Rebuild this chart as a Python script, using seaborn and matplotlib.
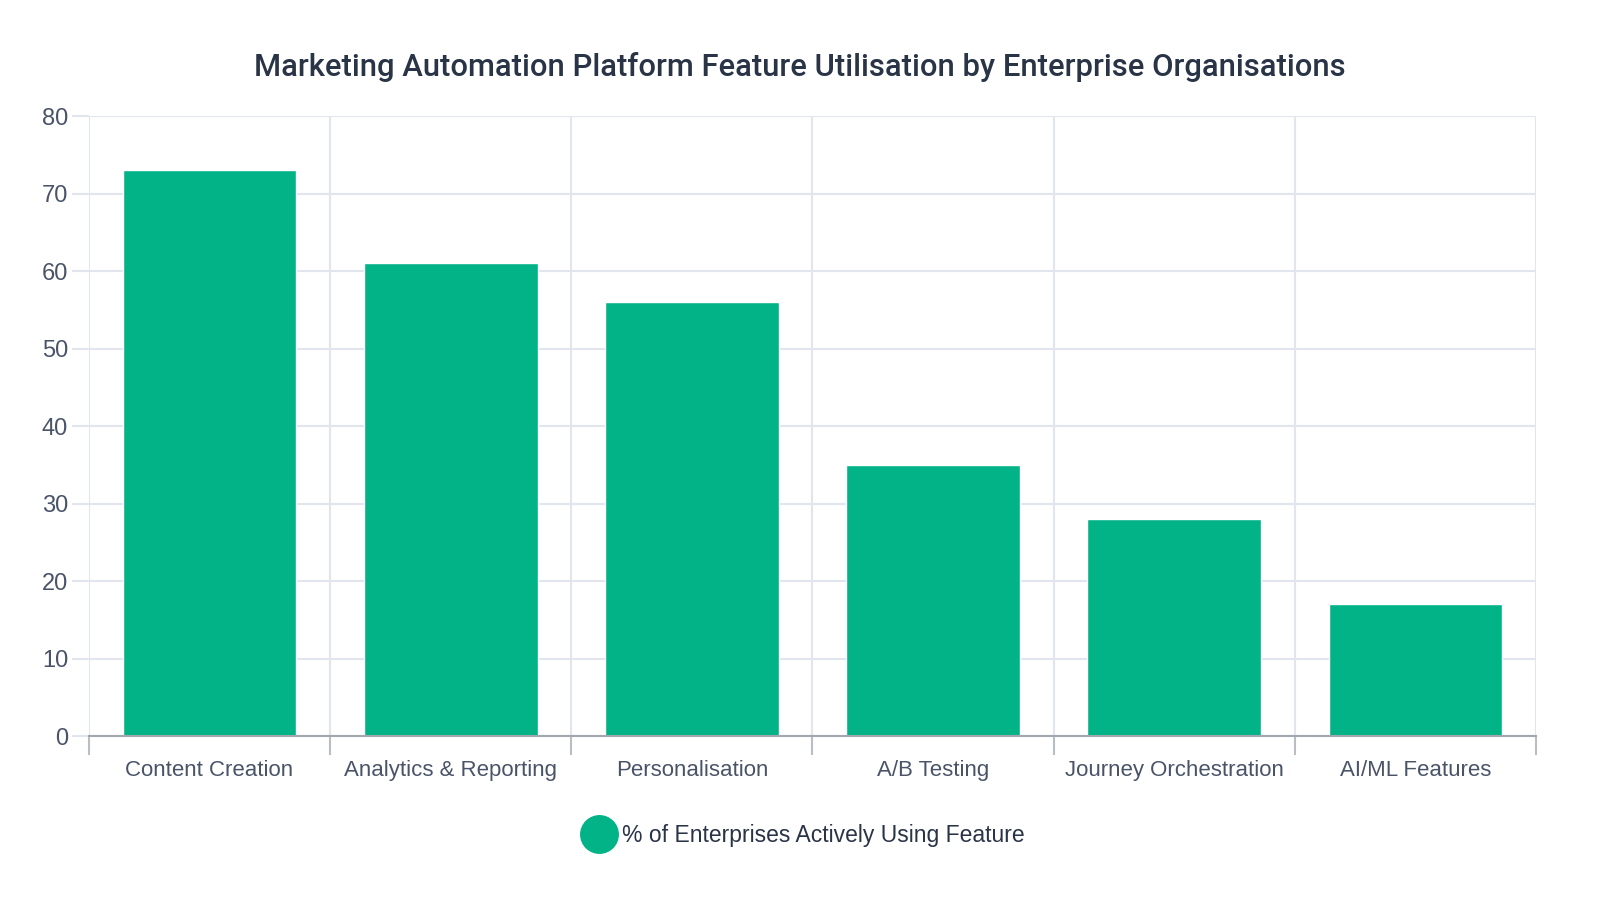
import matplotlib
matplotlib.use("Agg")
import matplotlib.pyplot as plt
from matplotlib.lines import Line2D
import seaborn as sns
import pandas as pd
import numpy as np

# chart data
features = ["Content Creation", "Analytics & Reporting", "Personalisation",
            "A/B Testing", "Journey Orchestration", "AI/ML Features"]
usage_pct = [73, 61, 56, 35, 28, 17]
series_name = "% of Enterprises Actively Using Feature"
y_ticks = [0, 10, 20, 30, 40, 50, 60, 70, 80]

bar_color = "#02b388"
grid_color = "#e1e5ee"
text_color = "#4a5468"
title_color = "#2a3447"
label_font = ["Liberation Sans", "DejaVu Sans"]

df = pd.DataFrame({"feature": features, "usage": usage_pct})

sns.set_style("white")
plt.rcParams["font.family"] = ["Roboto", "DejaVu Sans"]

fig = plt.figure(figsize=(16, 9), dpi=100)
ax = fig.add_axes([0.0556, 0.1822, 0.9044, 0.6889])

sns.barplot(data=df, x="feature", y="usage", color=bar_color, width=0.72,
            saturation=1, ax=ax, zorder=3)

ax.set_ylim(0, 80)
ax.set_xlim(-0.5, len(features) - 0.5)
ax.set_yticks(y_ticks)
ax.set_yticklabels([str(t) for t in y_ticks], fontsize=17, color=text_color,
                   family=label_font)
ax.set_xticklabels(features, fontsize=16, color=text_color, family=label_font)
ax.tick_params(axis="x", which="major", length=0, pad=17)
ax.tick_params(axis="y", which="major", left=True, length=12, color=grid_color,
               width=1.5, pad=3)

# category boundaries: ticks below the axis and vertical grid
ax.set_xticks(np.arange(-0.5, len(features)), minor=True)
ax.tick_params(axis="x", which="minor", bottom=True, direction="out", length=14,
               color="#b9bdc4", width=1.5)
ax.grid(axis="x", which="minor", color=grid_color, linewidth=1.5, zorder=0)
ax.grid(axis="y", which="major", color=grid_color, linewidth=1.5, zorder=0)
ax.set_axisbelow(True)

for side in ["top", "right", "left"]:
    ax.spines[side].set_visible(False)
ax.spines["bottom"].set_color("#a3a7ae")
ax.spines["bottom"].set_linewidth(1.5)
ax.spines["bottom"].set_zorder(4)

ax.set_xlabel("")
ax.set_ylabel("")

fig.suptitle("Marketing Automation Platform Feature Utilisation by Enterprise Organisations",
             x=0.5, y=0.942, fontsize=22.3, fontweight="medium", color=title_color)

handle = Line2D([], [], marker="o", linestyle="", markersize=27,
                markerfacecolor=bar_color, markeredgecolor=bar_color)
fig.legend([handle], [series_name], loc="center", bbox_to_anchor=(0.5, 0.072),
           frameon=False, handletextpad=0.0, labelcolor="#2a3447",
           prop={"family": label_font, "size": 16.5})

fig.savefig("out.png", dpi=100)
